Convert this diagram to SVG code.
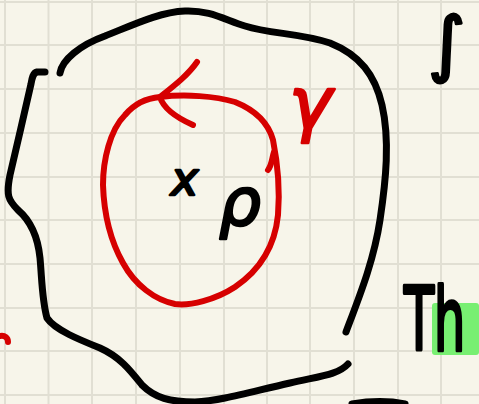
<svg xmlns="http://www.w3.org/2000/svg" width="479" height="404" viewBox="0 0 479 404">
<defs>
<style>
.grid{stroke:#e1dfd3;stroke-width:2;fill:none}
.ink{fill:none;stroke:#000;stroke-width:7;stroke-linecap:round;stroke-linejoin:round}
.red{fill:none;stroke:#d60000;stroke-width:6;stroke-linecap:round;stroke-linejoin:round}
.hand{font-family:"DejaVu Sans","Liberation Sans",sans-serif;font-weight:normal;stroke-width:2.5;stroke-linejoin:round}
.hk{fill:#000;stroke:#000}
.hr{fill:#d60000;stroke:#d60000}
</style>
</defs>
<rect x="0" y="0" width="479" height="404" fill="#f7f5ea"/>
<g id="grid" class="grid">
<path d="M5,0V404M48.5,0V404M92,0V404M136,0V404M180,0V404M224,0V404M267,0V404M310,0V404M354,0V404M398,0V404M441,0V404"/>
<path d="M0,2H479M0,45H479M0,89H479M0,133H479M0,177H479M0,220H479M0,264H479M0,308H479M0,351H479M0,395H479"/>
</g>
<rect x="432" y="303" width="47" height="52" rx="3" fill="#78ef72"/>
<g id="outer">
<path class="ink" d="M60,73 C62,60 80,45 105,36 C135,24 160,12 185,11 C210,10 225,20 245,26 C270,34 300,33 330,43 C360,55 375,75 382,105 C390,140 386,180 380,220 C374,260 360,295 346,332"/>
<path class="ink" d="M45,72 L37,72 C33,73 32,78 31,84 C25,110 16,150 10,175 C6,195 8,200 18,210 C32,222 38,238 40,258 C42,280 42,300 47,318 C55,330 80,340 100,348 C120,357 130,370 142,385 C155,398 170,402 195,402 C220,401 250,392 290,383 C320,376 338,375 348,364"/>
<path class="ink" d="M352,404 C370,401 390,401 405,404"/>
</g>
<g id="curve">
<path class="red" d="M160,97 C185,94 215,96 235,102 C255,110 268,122 273,140 C277,160 280,190 278,215 C275,245 260,270 235,287 C215,300 190,306 175,304 C155,300 135,285 123,263 C110,240 104,215 103,185 C103,160 110,130 125,115 C135,103 148,98 160,97"/>
<path class="red" d="M197,62 C188,75 175,85 160,97 C163,107 175,117 193,125"/>
<path class="red" d="M268,170 C272,165 272,158 274,152"/>
<path class="red" d="M0,336 C5,335 8,338 8,342"/>
</g>
<g id="labels">
<text class="hand hr" x="289" y="128" font-size="72" font-style="italic">γ</text>
<text class="hand hk" x="171" y="195" font-size="46" font-style="italic">x</text>
<text class="hand hk" x="219" y="225" font-size="66" font-style="italic">ρ</text>
<text class="hand hk" transform="translate(428,68) scale(1.15,1.15)" font-size="62">∫</text>
<text class="hand hk" transform="translate(404,350) scale(0.85,1.5)" font-size="58">Th</text>
</g>
</svg>
